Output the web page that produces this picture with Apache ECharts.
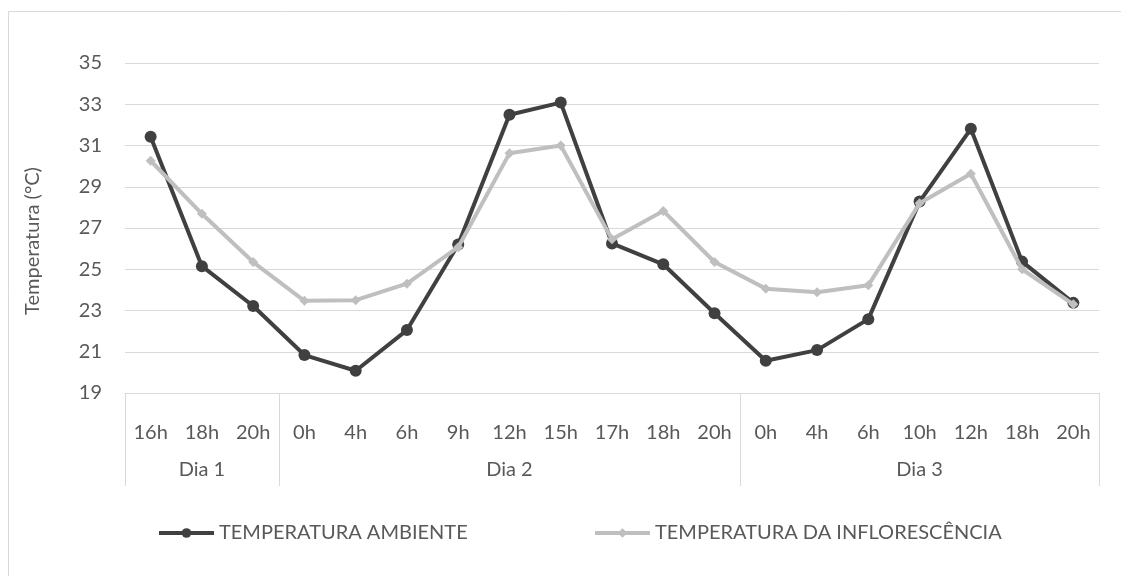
<!DOCTYPE html>
<html>
<head>
<meta charset="utf-8">
<script src="https://cdn.jsdelivr.net/npm/echarts@6/dist/echarts.min.js"></script>
<style>
html,body{margin:0;padding:0;background:#fff;}
#c{width:1121px;height:576px;}
</style>
</head>
<body>
<div id="c"></div>
<script>
// ---- data ----
var hours = ['16h','18h','20h','0h','4h','6h','9h','12h','15h','17h','18h','20h','0h','4h','6h','10h','12h','18h','20h'];
var days = ['Dia 1','Dia 2','Dia 3'];
var daySpans = [3, 9, 7];
var ambiente = [31.42, 25.15, 23.22, 20.84, 20.08, 22.05, 26.2, 32.49, 33.08, 26.25, 25.24, 22.87, 20.56, 21.08, 22.58, 28.28, 31.81, 25.37, 23.37];
var inflorescencia = [30.26, 27.69, 25.35, 23.47, 23.5, 24.3, 26.07, 30.62, 31.0, 26.45, 27.83, 25.35, 24.06, 23.88, 24.22, 28.2, 29.63, 25.0, 23.3];
var yTicks = [19, 21, 23, 25, 27, 29, 31, 33, 35];
var seriesNames = ['TEMPERATURA AMBIENTE', 'TEMPERATURA DA INFLORESCÊNCIA'];
var yTitle = 'Temperatura (°C)';

// ---- build day axis helpers ----
var dayAxisData = [];
var dayStarts = {};
var dayMids = {};
var idx = 0;
daySpans.forEach(function (span, d) {
  dayStarts[idx] = true;
  dayMids[idx + Math.floor(span / 2)] = days[d];
  for (var k = 0; k < span; k++) dayAxisData.push(days[d] + '#' + k);
  idx += span;
});

var FONT = 'Lato';
var FS = 20;
var TXT = '#595959';
var GRID = '#d9d9d9';

var chart = echarts.init(document.getElementById('c'), null, {renderer: 'canvas'});
chart.setOption({
  backgroundColor: '#ffffff',
  animation: false,
  textStyle: {fontFamily: FONT},
  graphic: [{
    type: 'rect',
    shape: {x: 8.5, y: 11.5, width: 1140, height: 600},
    style: {fill: 'none', stroke: GRID, lineWidth: 1},
    silent: true
  }],
  grid: {left: 125, right: 22, top: 63, bottom: 183, containLabel: false},
  legend: [{
    data: [seriesNames[0]],
    left: 152, top: 518,
    itemWidth: 55, itemHeight: 12,
    lineStyle: {width: 4},
    textStyle: {fontFamily: FONT, fontSize: FS, color: TXT},
    selectedMode: false
  }, {
    data: [seriesNames[1]],
    left: 588, top: 518,
    itemWidth: 55, itemHeight: 12,
    lineStyle: {width: 4},
    textStyle: {fontFamily: FONT, fontSize: FS, color: TXT},
    selectedMode: false
  }],
  xAxis: [{
    type: 'category',
    data: hours,
    boundaryGap: true,
    position: 'bottom',
    axisLine: {show: true, lineStyle: {color: GRID, width: 1}},
    axisTick: {show: false},
    axisLabel: {interval: 0, margin: 30, fontFamily: FONT, fontSize: FS, color: TXT}
  }, {
    type: 'category',
    data: dayAxisData,
    boundaryGap: true,
    position: 'bottom',
    offset: 0,
    axisLine: {show: false},
    axisTick: {
      show: true, length: 93,
      interval: function (i) { return !!dayStarts[i]; },
      lineStyle: {color: GRID, width: 1}
    },
    axisLabel: {
      interval: function (i) { return dayMids[i] !== undefined; },
      formatter: function (v, i) { return dayMids[i] || ''; },
      margin: 67, fontFamily: FONT, fontSize: FS, color: TXT
    },
    splitLine: {show: false}
  }],
  yAxis: {
    type: 'value',
    min: yTicks[0], max: yTicks[yTicks.length - 1], interval: 2,
    name: yTitle,
    nameLocation: 'middle',
    nameRotate: 90,
    nameGap: 82,
    nameTextStyle: {fontFamily: FONT, fontSize: FS, color: TXT, padding: [0, 26, 0, 0]},
    axisLine: {show: false},
    axisTick: {show: false},
    axisLabel: {margin: 23, fontFamily: FONT, fontSize: FS, color: TXT},
    splitLine: {show: true, lineStyle: {color: GRID, width: 1}}
  },
  series: [{
    name: seriesNames[0],
    type: 'line',
    data: ambiente,
    xAxisIndex: 0,
    symbol: 'circle',
    symbolSize: 12,
    lineStyle: {color: '#404040', width: 4},
    itemStyle: {color: '#404040'},
    z: 2
  }, {
    name: seriesNames[1],
    type: 'line',
    data: inflorescencia,
    xAxisIndex: 0,
    symbol: 'diamond',
    symbolSize: 10,
    lineStyle: {color: '#bfbfbf', width: 4},
    itemStyle: {color: '#bfbfbf'},
    z: 3
  }]
});
</script>
</body>
</html>
